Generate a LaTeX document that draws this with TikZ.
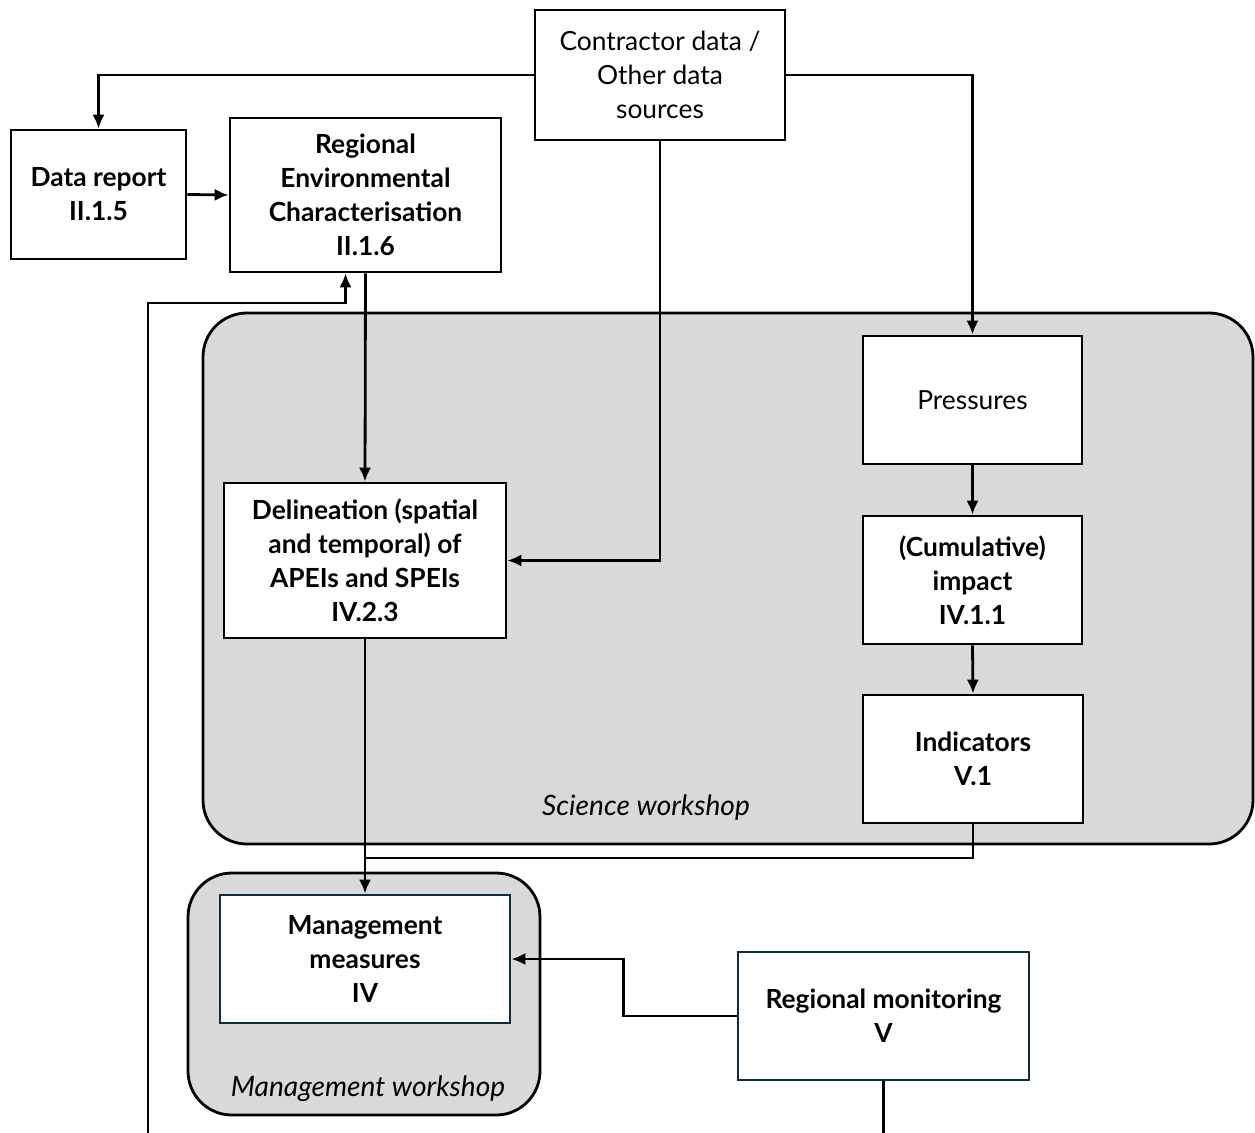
\documentclass[tikz,border=0pt]{standalone}
\usepackage{fontspec}
\setmainfont{Lato}
\usetikzlibrary{arrows.meta}
\definecolor{wsgray}{RGB}{217,217,217}
\definecolor{mmborder}{RGB}{20,42,56}
\tikzset{
    box/.style={draw, line width=1.6pt, fill=white, align=center, inner sep=2pt, font=\fontsize{15}{19.3}\selectfont},
    boldbox/.style={box, font=\fontsize{15}{19.3}\selectfont\bfseries},
    workshop/.style={draw, line width=1.6pt, fill=wsgray, rounded corners=25pt},
    wslabel/.style={font=\fontsize{16}{19.3}\selectfont\itshape},
    link/.style={line width=1.6pt, -{Latex[length=8pt,width=7pt]}},
    plain/.style={line width=1.6pt}
}
\begin{document}
\begin{tikzpicture}[x=0.02cm, y=-0.02cm]
        \useasboundingbox (0,0) rectangle (1255,1133);
        \draw[workshop] (203,313) rectangle (1253,844);
        \node[wslabel] (sciws) at (646,808) {Science workshop};
        \draw[workshop] (188,873) rectangle (540,1115);
        \node[wslabel] (mgmtws) at (368,1089) {Management workshop};
        \node[box, minimum width=5cm, minimum height=2.6cm] (contractor) at (660,75) {Contractor data /\\Other data\\sources};
        \node[boldbox, minimum width=3.5cm, minimum height=2.58cm] (datareport) at (98.5,194.5) {Data report\\II.1.5};
        \node[boldbox, minimum width=5.42cm, minimum height=3.08cm] (regenv) at (365.5,195) {Regional\\Environmental\\Characterisation\\II.1.6};
        \node[box, minimum width=4.38cm, minimum height=2.56cm] (pressures) at (972.5,400) {Pressures};
        \node[boldbox, minimum width=4.38cm, minimum height=2.56cm] (impact) at (972.5,580) {(Cumulative)\\impact\\IV.1.1};
        \node[boldbox, minimum width=4.4cm, minimum height=2.56cm] (indicators) at (973,759) {Indicators\\V.1};
        \node[boldbox, minimum width=5.64cm, minimum height=3.1cm] (delin) at (365,560.5) {Delineation (spatial\\and temporal) of\\APEIs and SPEIs\\IV.2.3};
        \node[boldbox, draw=mmborder, minimum width=5.8cm, minimum height=2.56cm] (measures) at (365,959) {Management\\measures\\IV};
        \node[boldbox, draw=mmborder, minimum width=5.82cm, minimum height=2.56cm] (monitoring) at (883.5,1016) {Regional monitoring\\V};
        \coordinate (join) at (delin.south |- 0,858);
        \coordinate (monout) at (monitoring.south |- 0,1133);
        \coordinate (feedin) at (148,1133);
        \coordinate (feedturn) at (148,303);
        \draw[link] (contractor.west) -| (datareport.north);
        \draw[link] (contractor.east) -| (pressures.north);
        \draw[link] (contractor.south) |- (delin.east);
        \draw[link] (datareport.east) -- (regenv.west);
        \draw[link] (regenv.south) -- (delin.north);
        \draw[link] (pressures.south) -- (impact.north);
        \draw[link] (impact.south) -- (indicators.north);
        \draw[plain] (indicators.south) |- (join);
        \draw[link] (delin.south) -- (measures.north);
        \draw[link] (monitoring.west) -- ++(-113,0) |- (measures.east);
        \draw[plain] (monitoring.south) -- (monout);
        \draw[link] (feedin) -- (feedturn) -| ([xshift=-0.4cm]regenv.south);
\end{tikzpicture}
\end{document}
